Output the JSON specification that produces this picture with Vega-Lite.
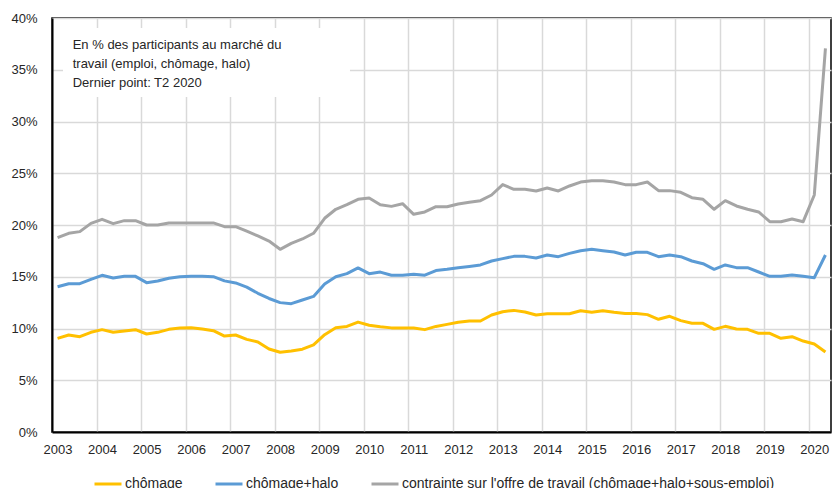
{
  "$schema": "https://vega.github.io/schema/vega-lite/v6.json",
  "width": 779,
  "height": 414,
  "autosize": {"type": "none"},
  "padding": {"left": 52, "top": 18, "right": 1, "bottom": 56},
  "background": "white",
  "config": {
    "view": {"stroke": "#000000", "strokeWidth": 1.5},
    "font": "Liberation Sans",
    "axis": {"labelFont": "Liberation Sans", "labelFontSize": 13, "labelColor": "#262626", "gridColor": "#D9D9D9", "gridWidth": 1.5, "ticks": false, "title": null},
    "legend": {"labelFont": "Liberation Sans", "labelFontSize": 14, "labelColor": "#262626"}
  },
  "layer": [
    {
      "data": {
        "values": [
          {"t": 2003.00, "chomage": 9.05, "halo": 14.04, "contrainte": 18.77},
          {"t": 2003.25, "chomage": 9.37, "halo": 14.33, "contrainte": 19.20},
          {"t": 2003.50, "chomage": 9.21, "halo": 14.33, "contrainte": 19.36},
          {"t": 2003.75, "chomage": 9.63, "halo": 14.75, "contrainte": 20.16},
          {"t": 2004.00, "chomage": 9.89, "halo": 15.14, "contrainte": 20.55},
          {"t": 2004.25, "chomage": 9.63, "halo": 14.88, "contrainte": 20.13},
          {"t": 2004.50, "chomage": 9.76, "halo": 15.04, "contrainte": 20.42},
          {"t": 2004.75, "chomage": 9.89, "halo": 15.04, "contrainte": 20.42},
          {"t": 2005.00, "chomage": 9.47, "halo": 14.43, "contrainte": 20.00},
          {"t": 2005.25, "chomage": 9.63, "halo": 14.59, "contrainte": 20.00},
          {"t": 2005.50, "chomage": 9.92, "halo": 14.85, "contrainte": 20.20},
          {"t": 2005.75, "chomage": 10.05, "halo": 15.01, "contrainte": 20.20},
          {"t": 2006.00, "chomage": 10.08, "halo": 15.04, "contrainte": 20.20},
          {"t": 2006.25, "chomage": 9.95, "halo": 15.04, "contrainte": 20.20},
          {"t": 2006.50, "chomage": 9.79, "halo": 15.01, "contrainte": 20.20},
          {"t": 2006.75, "chomage": 9.27, "halo": 14.60, "contrainte": 19.84},
          {"t": 2007.00, "chomage": 9.37, "halo": 14.40, "contrainte": 19.84},
          {"t": 2007.25, "chomage": 8.95, "halo": 14.00, "contrainte": 19.40},
          {"t": 2007.50, "chomage": 8.70, "halo": 13.40, "contrainte": 18.94},
          {"t": 2007.75, "chomage": 8.02, "halo": 12.90, "contrainte": 18.45},
          {"t": 2008.00, "chomage": 7.70, "halo": 12.50, "contrainte": 17.65},
          {"t": 2008.25, "chomage": 7.83, "halo": 12.40, "contrainte": 18.23},
          {"t": 2008.50, "chomage": 8.00, "halo": 12.75, "contrainte": 18.65},
          {"t": 2008.75, "chomage": 8.41, "halo": 13.10, "contrainte": 19.20},
          {"t": 2009.00, "chomage": 9.40, "halo": 14.30, "contrainte": 20.65},
          {"t": 2009.25, "chomage": 10.08, "halo": 15.00, "contrainte": 21.52},
          {"t": 2009.50, "chomage": 10.20, "halo": 15.30, "contrainte": 21.96},
          {"t": 2009.75, "chomage": 10.62, "halo": 15.85, "contrainte": 22.48},
          {"t": 2010.00, "chomage": 10.32, "halo": 15.30, "contrainte": 22.61},
          {"t": 2010.25, "chomage": 10.16, "halo": 15.45, "contrainte": 21.96},
          {"t": 2010.50, "chomage": 10.06, "halo": 15.15, "contrainte": 21.80},
          {"t": 2010.75, "chomage": 10.06, "halo": 15.15, "contrainte": 22.06},
          {"t": 2011.00, "chomage": 10.05, "halo": 15.25, "contrainte": 21.03},
          {"t": 2011.25, "chomage": 9.89, "halo": 15.15, "contrainte": 21.26},
          {"t": 2011.50, "chomage": 10.20, "halo": 15.60, "contrainte": 21.77},
          {"t": 2011.75, "chomage": 10.40, "halo": 15.72, "contrainte": 21.77},
          {"t": 2012.00, "chomage": 10.60, "halo": 15.88, "contrainte": 22.03},
          {"t": 2012.25, "chomage": 10.72, "halo": 16.00, "contrainte": 22.19},
          {"t": 2012.50, "chomage": 10.72, "halo": 16.14, "contrainte": 22.35},
          {"t": 2012.75, "chomage": 11.30, "halo": 16.52, "contrainte": 22.90},
          {"t": 2013.00, "chomage": 11.62, "halo": 16.75, "contrainte": 23.90},
          {"t": 2013.25, "chomage": 11.75, "halo": 16.97, "contrainte": 23.45},
          {"t": 2013.50, "chomage": 11.59, "halo": 16.97, "contrainte": 23.45},
          {"t": 2013.75, "chomage": 11.30, "halo": 16.81, "contrainte": 23.29},
          {"t": 2014.00, "chomage": 11.43, "halo": 17.10, "contrainte": 23.57},
          {"t": 2014.25, "chomage": 11.43, "halo": 16.94, "contrainte": 23.29},
          {"t": 2014.50, "chomage": 11.43, "halo": 17.26, "contrainte": 23.77},
          {"t": 2014.75, "chomage": 11.72, "halo": 17.52, "contrainte": 24.15},
          {"t": 2015.00, "chomage": 11.56, "halo": 17.65, "contrainte": 24.28},
          {"t": 2015.25, "chomage": 11.72, "halo": 17.52, "contrainte": 24.28},
          {"t": 2015.50, "chomage": 11.56, "halo": 17.39, "contrainte": 24.15},
          {"t": 2015.75, "chomage": 11.45, "halo": 17.10, "contrainte": 23.90},
          {"t": 2016.00, "chomage": 11.46, "halo": 17.36, "contrainte": 23.90},
          {"t": 2016.25, "chomage": 11.34, "halo": 17.36, "contrainte": 24.15},
          {"t": 2016.50, "chomage": 10.89, "halo": 16.94, "contrainte": 23.32},
          {"t": 2016.75, "chomage": 11.18, "halo": 17.10, "contrainte": 23.32},
          {"t": 2017.00, "chomage": 10.76, "halo": 16.94, "contrainte": 23.16},
          {"t": 2017.25, "chomage": 10.50, "halo": 16.52, "contrainte": 22.64},
          {"t": 2017.50, "chomage": 10.50, "halo": 16.26, "contrainte": 22.48},
          {"t": 2017.75, "chomage": 9.92, "halo": 15.72, "contrainte": 21.52},
          {"t": 2018.00, "chomage": 10.21, "halo": 16.14, "contrainte": 22.35},
          {"t": 2018.25, "chomage": 9.95, "halo": 15.88, "contrainte": 21.84},
          {"t": 2018.50, "chomage": 9.92, "halo": 15.88, "contrainte": 21.52},
          {"t": 2018.75, "chomage": 9.53, "halo": 15.46, "contrainte": 21.26},
          {"t": 2019.00, "chomage": 9.53, "halo": 15.04, "contrainte": 20.32},
          {"t": 2019.25, "chomage": 9.05, "halo": 15.04, "contrainte": 20.32},
          {"t": 2019.50, "chomage": 9.21, "halo": 15.17, "contrainte": 20.58},
          {"t": 2019.75, "chomage": 8.79, "halo": 15.04, "contrainte": 20.32},
          {"t": 2020.00, "chomage": 8.50, "halo": 14.91, "contrainte": 22.90},
          {"t": 2020.25, "chomage": 7.73, "halo": 17.10, "contrainte": 37.07}
        ]
      },
      "transform": [{"fold": ["chomage", "halo", "contrainte"], "as": ["serie", "v"]}],
      "mark": {"type": "line", "strokeWidth": 3, "interpolate": "linear", "strokeJoin": "round"},
      "encoding": {
        "x": {
          "field": "t", "type": "quantitative",
          "scale": {"domain": [2002.875, 2020.375], "nice": false, "zero": false},
          "axis": {
            "values": [2002.875, 2003.875, 2004.875, 2005.875, 2006.875, 2007.875, 2008.875, 2009.875, 2010.875, 2011.875, 2012.875, 2013.875, 2014.875, 2015.875, 2016.875, 2017.875, 2018.875, 2019.875],
            "labelExpr": "format(datum.value + 0.125, 'd')",
            "labelOffset": 5.56,
            "labelFlush": false,
            "labelOverlap": false,
            "labelPadding": 11,
            "domain": true,
            "domainColor": "#000000",
            "domainWidth": 2,
            "grid": true,
            "title": null
          }
        },
        "y": {
          "field": "v", "type": "quantitative",
          "scale": {"domain": [0, 40], "nice": false},
          "axis": {
            "values": [0, 5, 10, 15, 20, 25, 30, 35, 40],
            "labelExpr": "datum.value + '%'",
            "labelPadding": 15,
            "domain": true,
            "domainColor": "#000000",
            "domainWidth": 2,
            "grid": true,
            "title": null
          }
        },
        "color": {
          "field": "serie", "type": "nominal",
          "scale": {"domain": ["chomage", "halo", "contrainte"], "range": ["#FFC000", "#5B9BD5", "#A5A5A5"]},
          "legend": {
            "title": null,
            "orient": "none",
            "legendX": 41,
            "legendY": 451,
            "direction": "horizontal",
            "symbolType": "stroke",
            "symbolSize": 729,
            "symbolStrokeWidth": 3,
            "labelOffset": 2,
            "labelLimit": 0,
            "columnPadding": 26,
            "padding": 0,
            "labelExpr": "datum.label == 'chomage' ? 'chômage' : datum.label == 'halo' ? 'chômage+halo' : 'contrainte sur l\\'offre de travail (chômage+halo+sous-emploi)'"
          }
        }
      }
    },
    {
      "data": {"values": [{}]},
      "mark": {"type": "rect", "fill": "white"},
      "encoding": {
        "x": {"datum": 2003.122, "type": "quantitative"},
        "x2": {"datum": 2009.569},
        "y": {"datum": 39.03, "type": "quantitative"},
        "y2": {"datum": 32.37}
      }
    },
    {
      "data": {"values": [{}]},
      "mark": {"type": "text", "align": "left", "baseline": "alphabetic", "fontSize": 13, "font": "Liberation Sans", "fill": "#262626", "lineHeight": 19},
      "encoding": {
        "x": {"datum": 2003.34, "type": "quantitative"},
        "y": {"datum": 37.0, "type": "quantitative"},
        "text": {"value": ["En % des participants au marché du", "travail (emploi, chômage, halo)", "Dernier point: T2 2020"]}
      }
    }
  ]
}
